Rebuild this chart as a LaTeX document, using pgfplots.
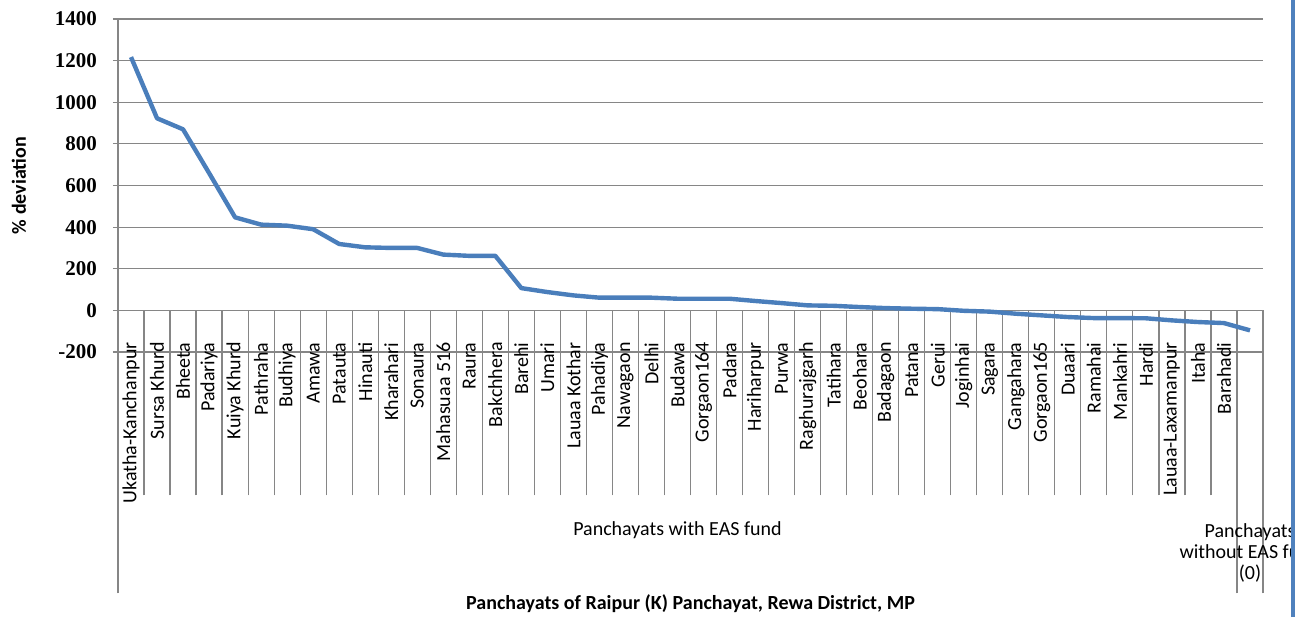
\documentclass[border=0pt]{standalone}
\usepackage{pgfplots}
\pgfplotsset{compat=1.18}
\usepackage{fontspec}
\setmainfont{Carlito}
\newfontfamily\tnr{Liberation Serif}

\definecolor{lineblue}{HTML}{4A7EBB}
\definecolor{gridgray}{HTML}{868686}
\definecolor{edgeblue}{HTML}{4F81BD}

\begin{document}
\begin{tikzpicture}
% frame of the whole picture (1 px of the reference = 0.5pt)
\path[use as bounding box] (0,0) rectangle (658pt,308.5pt);

\begin{axis}[
    at={(59pt,132.5pt)}, anchor=south west,
    scale only axis,
    width=572.5pt, height=166.5pt,
    xmin=0.5, xmax=44.5,
    ymin=-200, ymax=1400,
    axis x line=middle, axis y line=left,
    x axis line style={-, draw=gridgray, line width=0.6pt},
    y axis line style={-, draw=gridgray, line width=0.6pt},
    hide obscured x ticks=false, hide obscured y ticks=false,
    ytick={-200,0,...,1400},
    ymajorgrids,
    grid style={draw=gridgray, line width=0.6pt},
    ytick align=outside,
    major y tick style={draw=gridgray, line width=0.6pt},
    major tick length=2.5pt,
    yticklabel style={font=\tnr\bfseries\fontsize{10.5}{12}\selectfont, xshift=-4.5pt},
    /pgf/number format/assume math mode=true,
    /pgf/number format/1000 sep={},
    xtick={1,...,44},
    xticklabels={Ukatha-Kanchanpur, Sursa Khurd, Bheeta, Padariya, Kuiya Khurd,
        Pathraha, Budhiya, Amawa, Patauta, Hinauti, Kharahari, Sonaura,
        Mahasuaa 516, Raura, Bakchhera, Barehi, Umari, Lauaa Kothar, Pahadiya,
        Nawagaon, Delhi, Budawa, Gorgaon164, Padara, Hariharpur, Purwa,
        Raghurajgarh, Tatihara, Beohara, Badagaon, Patana, Gerui, Joginhai,
        Sagara, Gangahara, Gorgaon165, Duaari, Ramahai, Mankahri, Hardi,
        Lauaa-Laxamanpur, Itaha, Barahadi, {}},
    major x tick style={draw=none},
    xticklabel style={font=\fontsize{10}{12}\selectfont, rotate=90, anchor=east, xshift=-10pt},
    minor xtick={1.5,2.5,...,42.5},
    xtick align=outside,
    minor x tick style={draw=gridgray, line width=0.6pt},
    minor tick length=92.5pt,
    extra x ticks={0.5,43.5,44.5},
    extra x tick labels={},
    extra x tick style={major x tick style={draw=gridgray, line width=0.6pt},
        major tick length=141.5pt},
    xlabel={\bfseries Panchayats of Raipur (K) Panchayat, Rewa District, MP},
    xlabel style={at={(rel axis cs:0.5,0)}, anchor=center, yshift=-126pt,
        font=\fontsize{10}{12}\selectfont},
    ylabel={\bfseries \% deviation},
    ylabel style={at={(rel axis cs:0,0.5)}, anchor=center, yshift=49.5pt,
        font=\fontsize{10}{12}\selectfont},
]
\addplot[lineblue, line width=2.2pt, line join=round, mark=none] coordinates {
    (1,1217) (2,923) (3,870) (4,660) (5,447) (6,412) (7,407) (8,390)
    (9,319) (10,303) (11,300) (12,300) (13,268) (14,262) (15,262) (16,107)
    (17,88) (18,72) (19,61) (20,61) (21,61) (22,56) (23,56) (24,56)
    (25,45) (26,35) (27,24) (28,22) (29,16) (30,11) (31,8) (32,6)
    (33,-2) (34,-6) (35,-16) (36,-24) (37,-32) (38,-37) (39,-37) (40,-38)
    (41,-48) (42,-56) (43,-61) (44,-96)
};
\coordinate (g1) at (axis cs:22,0);
\coordinate (g2) at (axis cs:44,0);
\end{axis}

\node[font=\fontsize{10}{12}\selectfont] at ([yshift=-110pt]g1) {Panchayats with EAS fund};
\begin{scope}
\clip (0,0) rectangle (645.5pt,308.5pt);
\node[font=\fontsize{10}{10.5}\selectfont, align=center] at ([yshift=-121.5pt]g2)
    {Panchayats\\without EAS fund\\(0)};
\end{scope}
\draw[edgeblue, line width=2pt] (646.5pt,0) -- (646.5pt,308.5pt);
\end{tikzpicture}
\end{document}
